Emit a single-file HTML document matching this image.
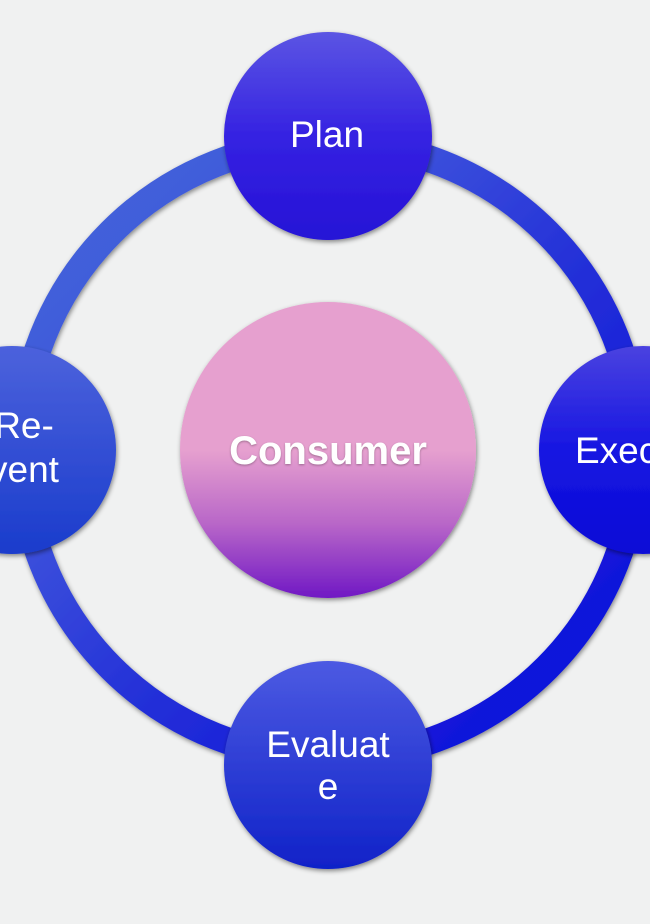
<!DOCTYPE html>
<html><head><meta charset="utf-8"><style>
html,body{margin:0;padding:0;background:#f0f1f1;}
svg{display:block}
text{font-family:"Liberation Sans",sans-serif;fill:#fff;}
</style></head><body>
<svg width="650" height="924" viewBox="0 0 650 924" xmlns="http://www.w3.org/2000/svg">
<defs>
<linearGradient id="ring" x1="0" y1="0" x2="1" y2="1">
<stop offset="0" stop-color="#4468d8"/>
<stop offset="0.3" stop-color="#3f55dc"/>
<stop offset="0.55" stop-color="#2430d8"/>
<stop offset="1" stop-color="#0606dc"/>
</linearGradient>
<linearGradient id="gTop" x1="0" y1="0" x2="0" y2="1">
<stop offset="0" stop-color="#5b55e3"/><stop offset="0.5" stop-color="#3522e2"/><stop offset="1" stop-color="#2612d6"/>
</linearGradient>
<linearGradient id="gLeft" x1="0" y1="0" x2="0" y2="1">
<stop offset="0" stop-color="#4c62dc"/><stop offset="1" stop-color="#1a3ccc"/>
</linearGradient>
<linearGradient id="gRight" x1="0" y1="0" x2="0" y2="1">
<stop offset="0" stop-color="#4a42e0"/><stop offset="0.5" stop-color="#1616e2"/><stop offset="1" stop-color="#0a0ad6"/>
</linearGradient>
<linearGradient id="gBot" x1="0" y1="0" x2="0" y2="1">
<stop offset="0" stop-color="#4c5ae2"/><stop offset="1" stop-color="#1022c8"/>
</linearGradient>
<linearGradient id="gPink" x1="0" y1="0" x2="0" y2="1">
<stop offset="0" stop-color="#e6a0cf"/><stop offset="0.5" stop-color="#e6a0cf"/>
<stop offset="0.75" stop-color="#b866c8"/><stop offset="1" stop-color="#7018c4"/>
</linearGradient>
<filter id="sh" x="-20%" y="-20%" width="140%" height="140%">
<feDropShadow dx="1" dy="2" stdDeviation="2.5" flood-color="#000" flood-opacity="0.45"/>
</filter>
</defs>
<circle cx="329" cy="450" r="308" fill="none" stroke="url(#ring)" stroke-width="27" filter="url(#sh)"/>
<circle cx="328" cy="136" r="104" fill="url(#gTop)" filter="url(#sh)"/>
<circle cx="12" cy="450" r="104" fill="url(#gLeft)" filter="url(#sh)"/>
<circle cx="643" cy="450" r="104" fill="url(#gRight)" filter="url(#sh)"/>
<circle cx="328" cy="765" r="104" fill="url(#gBot)" filter="url(#sh)"/>
<circle cx="328" cy="450" r="148" fill="url(#gPink)" filter="url(#sh)"/>
<text x="327" y="147" font-size="37" text-anchor="middle">Plan</text>
<text x="24" y="438" font-size="37" text-anchor="middle">Re-</text>
<text x="24" y="482" font-size="37" text-anchor="middle">vent</text>
<text x="575" y="463" font-size="37">Exec</text>
<text x="328" y="757" font-size="37" text-anchor="middle">Evaluat</text>
<text x="328" y="799" font-size="37" text-anchor="middle">e</text>
<text x="328" y="464" font-size="40" font-weight="bold" text-anchor="middle" style="filter:drop-shadow(0 1px 1px rgba(0,0,0,0.3))">Consumer</text>
</svg>
</body></html>
